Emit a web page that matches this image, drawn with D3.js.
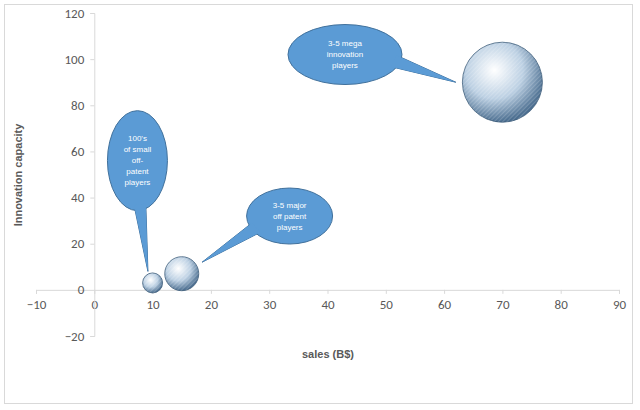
<!DOCTYPE html>
<html>
<head>
    <meta charset="utf-8" />
    <script src="https://cdn.jsdelivr.net/npm/d3@7"></script>
    <style>
        body { margin: 0; background: #fff; }
        .tick text { font-family: Calibri, Carlito, "Liberation Sans", sans-serif; font-size: 13px; fill: #595959; }
        .callout text { font-family: "Liberation Sans", sans-serif; font-size: 8px; fill: #fff; }
    </style>
</head>
<body>
<script>
    // data
    var salesX = [10, 15, 70];
    var innovY = [3, 7, 90];
    var bubbleSize = [10, 17, 40];
    var xTicks = [-10, 0, 10, 20, 30, 40, 50, 60, 70, 80, 90];
    var yTicks = [-20, 0, 20, 40, 60, 80, 100, 120];
    var calloutText = [
        ["100's", "of small", "off-", "patent", "players"],
        ["3-5 major", "off patent", "players"],
        ["3-5 mega", "innovation", "players"]
    ];
    // callout ellipse centre (data units), radii px, tail target index
    var calloutX = [7.4, 33.5, 43];
    var calloutY = [56, 32, 102];

    var svg = d3.select('body').append('svg').attr('width', 640).attr('height', 410);

    svg.append('rect').attr('x', 4.5).attr('y', 4.5).attr('width', 628).attr('height', 399)
        .attr('fill', '#fff').attr('stroke', '#d9d9d9');

    var x = d3.scaleLinear().domain([-10, 90]).range([36, 619]);
    var y = d3.scaleLinear().domain([-20, 120]).range([336, 13]);

    var defs = svg.append('defs');
    var grad = defs.append('radialGradient').attr('id', 'ball').attr('cx', '40%').attr('cy', '35%').attr('r', '65%');
    grad.append('stop').attr('offset', '0%').attr('stop-color', '#ffffff');
    grad.append('stop').attr('offset', '55%').attr('stop-color', '#bcd0e3');
    grad.append('stop').attr('offset', '100%').attr('stop-color', '#4a6d8f');
    var pat = defs.append('pattern').attr('id', 'hatch').attr('width', 3).attr('height', 3)
        .attr('patternUnits', 'userSpaceOnUse').attr('patternTransform', 'rotate(45)');
    pat.append('line').attr('x1', 0).attr('y1', 0).attr('x2', 0).attr('y2', 3)
        .attr('stroke', '#ffffff').attr('stroke-width', 1).attr('opacity', 0.35);

    // axes
    var xAxis = svg.append('g').attr('transform', 'translate(0,' + y(0) + ')')
        .call(d3.axisBottom(x).tickValues(xTicks).tickSize(4).tickPadding(6));
    xAxis.select('.domain').attr('stroke', '#d9d9d9');
    xAxis.selectAll('.tick line').attr('stroke', '#d9d9d9');
    xAxis.selectAll('.tick').filter(function (d) { return d === 0; }).select('text').attr('dx', '0.0em');

    var yAxis = svg.append('g').attr('transform', 'translate(' + x(0) + ',0)')
        .call(d3.axisLeft(y).tickValues(yTicks).tickSize(4).tickPadding(6));
    yAxis.select('.domain').attr('stroke', '#d9d9d9');
    yAxis.selectAll('.tick line').attr('stroke', '#d9d9d9');
    yAxis.selectAll('.tick').filter(function (d) { return d === 0; }).remove();
    svg.append('text').attr('x', x(0) - 10).attr('y', y(0)).attr('dy', '0.32em').attr('text-anchor', 'end')
        .attr('class', 'tick').style('font-family', 'Calibri, Carlito, "Liberation Sans", sans-serif')
        .style('font-size', '13px').style('fill', '#595959').text('0');

    svg.append('text').attr('x', 328).attr('y', 358).attr('text-anchor', 'middle')
        .style('font-family', '"Liberation Sans", sans-serif').style('font-size', '11px').style('font-weight', 'bold')
        .style('fill', '#595959').text('sales (B$)');
    svg.append('text').attr('transform', 'translate(22,175) rotate(-90)').attr('text-anchor', 'middle')
        .style('font-family', '"Liberation Sans", sans-serif').style('font-size', '11px').style('font-weight', 'bold')
        .style('fill', '#595959').text('Innovation capacity');

    // bubbles
    var bubbles = svg.selectAll('.bubble').data(salesX).enter().append('g').attr('class', 'bubble');
    bubbles.append('circle').attr('cx', function (d) { return x(d); })
        .attr('cy', function (d, i) { return y(innovY[i]); })
        .attr('r', function (d, i) { return bubbleSize[i]; })
        .attr('fill', 'url(#ball)').attr('stroke', '#3d5d7a').attr('stroke-width', 0.8);
    bubbles.append('circle').attr('cx', function (d) { return x(d); })
        .attr('cy', function (d, i) { return y(innovY[i]); })
        .attr('r', function (d, i) { return bubbleSize[i]; })
        .attr('fill', 'url(#hatch)');

    // callouts
    var rx = [30, 43, 57], ry = [50, 28, 30];
    var tail = [[9.2, 8], [18.5, 12], [62, 90]];
    var callouts = svg.selectAll('.callout').data(calloutText).enter().append('g').attr('class', 'callout');
    callouts.each(function (lines, i) {
        var g = d3.select(this);
        var cx = x(calloutX[i]), cy = y(calloutY[i]);
        var tx = x(tail[i][0]), ty = y(tail[i][1]);
        var ang = Math.atan2(ty - cy, tx - cx), w = 0.22;
        var p1 = [cx + rx[i] * 0.9 * Math.cos(ang - w), cy + ry[i] * 0.9 * Math.sin(ang - w)];
        var p2 = [cx + rx[i] * 0.9 * Math.cos(ang + w), cy + ry[i] * 0.9 * Math.sin(ang + w)];
        g.append('path').attr('d', 'M' + p1 + 'L' + tx + ',' + ty + 'L' + p2 + 'Z')
            .attr('fill', '#5b9bd5').attr('stroke', '#41719c').attr('stroke-width', 1);
        g.append('ellipse').attr('cx', cx).attr('cy', cy).attr('rx', rx[i]).attr('ry', ry[i])
            .attr('fill', '#5b9bd5').attr('stroke', '#41719c').attr('stroke-width', 1);
        g.append('path').attr('d', 'M' + p1 + 'L' + tx + ',' + ty + 'L' + p2)
            .attr('fill', '#5b9bd5').attr('stroke', 'none');
        var lh = 11, start = cy - (lines.length - 1) * lh / 2;
        lines.forEach(function (t, k) {
            g.append('text').attr('x', cx).attr('y', start + k * lh).attr('dy', '0.32em')
                .attr('text-anchor', 'middle').text(t);
        });
    });
</script>
</body>
</html>
